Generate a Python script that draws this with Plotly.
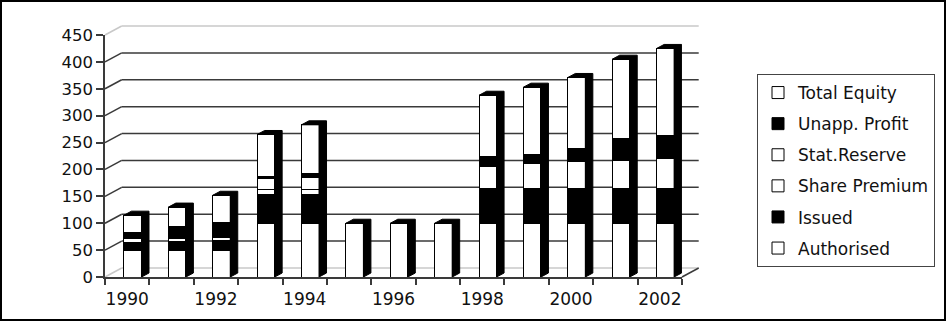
import plotly.graph_objects as go

# ---- data ----
years = list(range(1990, 2003))
authorised    = [50, 50, 50, 100, 100, 100, 100, 100, 100, 100, 100, 100, 100]
issued        = [15, 16, 17, 54, 54, None, None, None, 65, 65, 65, 65, 65]
share_premium = [6, 6, 7, 9, 9, None, None, None, None, None, None, None, None]
stat_reserve  = [None, None, None, 20, 22, None, None, None, 41, 46, 49, 52, 56]
unapp_profit  = [11, 21, 28, 4, 8, None, None, None, 19, 17, 25, 40, 43]
total_equity  = [33, 37, 50, 78, 90, None, None, None, 113, 125, 132, 148, 161]
x_tick_labels = [1990, 1992, 1994, 1996, 1998, 2000, 2002]
y_ticks = [0, 50, 100, 150, 200, 250, 300, 350, 400, 450]

series = [
    ("Authorised", authorised, "white"),
    ("Issued", issued, "black"),
    ("Share Premium", share_premium, "white"),
    ("Stat.Reserve", stat_reserve, "white"),
    ("Unapp. Profit", unapp_profit, "black"),
    ("Total Equity", total_equity, "white"),
]

# ---- layout geometry ----
W, H = 951, 322
L, R, T, B = 105, 269, 35, 45
PW, PH = W - L - R, H - T - B
X_RANGE = [1989.5, 2002.5]
Y_RANGE = [0, 450]
px_x = PW / (X_RANGE[1] - X_RANGE[0])
px_y = PH / (Y_RANGE[1] - Y_RANGE[0])

BW = 17.5 / px_x      # bar front width (data units)
BO = -3.2 / px_x      # bar offset from category centre
DX = 7.5 / px_x       # bar depth, x
DY = 4.0 / px_y       # bar depth, y
WX = 16.7 / PW        # wall depth in paper units
WY = 9.0 / PH

FONT = "DejaVu Sans"
DARK = "#3a3a3a"
LIGHT = "#c8c8c8"

fig = go.Figure()

n = len(series)
for i, (name, vals, col) in enumerate(series):
    fig.add_trace(go.Bar(
        x=years, y=vals, name=name, width=BW, offset=BO,
        marker=dict(color=col, line=dict(color="black", width=1)),
        legendgroup=name, legendrank=n - i,
    ))

# 3D side/top faces (black), computed from stack totals
totals = [sum(v for v in col if v is not None)
          for col in zip(authorised, issued, share_premium, stat_reserve, unapp_profit, total_equity)]
px_, py_ = [], []
for yr, tot in zip(years, totals):
    xl = yr + BO
    xr = xl + BW
    pts = [(xl, tot), (xl + DX, tot + DY), (xr + DX, tot + DY), (xr + DX, DY), (xr, 0), (xr, tot), (xl, tot)]
    for a, b in pts:
        px_.append(a)
        py_.append(b)
    px_.append(None)
    py_.append(None)
fig.add_trace(go.Scatter(
    x=px_, y=py_, mode="lines", fill="toself", fillcolor="black",
    line=dict(color="black", width=1), showlegend=False, hoverinfo="skip",
))

shapes = []
for v in y_ticks:
    col = LIGHT if v in (Y_RANGE[0], Y_RANGE[1]) else DARK
    yp = (v - Y_RANGE[0]) / (Y_RANGE[1] - Y_RANGE[0])
    shapes.append(dict(type="line", xref="paper", yref="paper", layer="below",
                       x0=WX, x1=1 + WX, y0=yp + WY, y1=yp + WY,
                       line=dict(color=col, width=1.5)))
    shapes.append(dict(type="line", xref="paper", yref="paper", layer="below",
                       x0=0, x1=WX, y0=yp, y1=yp + WY,
                       line=dict(color=col, width=1.5)))
# floor right edge
shapes.append(dict(type="line", xref="paper", yref="paper", layer="below",
                   x0=1, x1=1 + WX, y0=0, y1=WY, line=dict(color=DARK, width=1.5)))
# outer frame
def pxp(x):
    return (x - L) / PW
def pyp(y):
    return (H - B - y) / PH
shapes.append(dict(type="rect", xref="paper", yref="paper", layer="above",
                   x0=pxp(1), x1=pxp(945), y0=pyp(1), y1=pyp(320),
                   line=dict(color="black", width=2), fillcolor="rgba(0,0,0,0)"))

fig.update_layout(
    width=W, height=H,
    margin=dict(l=L, r=R, t=T, b=B, pad=0),
    barmode="stack",
    paper_bgcolor="white",
    plot_bgcolor="rgba(0,0,0,0)",
    font=dict(family=FONT, color="#111111", size=16),
    shapes=shapes,
    showlegend=True,
    legend=dict(
        x=pxp(757), y=pyp(74), xanchor="left", yanchor="top",
        traceorder="grouped", tracegroupgap=6,
        bordercolor="#444444", borderwidth=1, bgcolor="white",
        font=dict(family=FONT, size=17, color="#111111"),
        itemclick=False,
    ),
    xaxis=dict(
        range=X_RANGE, tickmode="array", tickvals=x_tick_labels,
        ticktext=[str(v) for v in x_tick_labels],
        ticks="outside", ticklen=6, tickcolor="rgba(0,0,0,0)",
        showline=True, linecolor=DARK, linewidth=1.5,
        showgrid=False, zeroline=False,
        minor=dict(tickvals=[y + 0.5 for y in range(1989, 2003)], ticks="outside",
                   ticklen=6, tickcolor=DARK, tickwidth=1.5, showgrid=False),
        tickfont=dict(family=FONT, size=17, color="#111111"),
        fixedrange=True,
    ),
    yaxis=dict(
        range=Y_RANGE, tickmode="array", tickvals=y_ticks,
        ticks="outside", ticklen=7, tickcolor=DARK, tickwidth=1.5,
        showline=True, linecolor=DARK, linewidth=1.5,
        showgrid=False, zeroline=False,
        tickfont=dict(family=FONT, size=16.5, color="#111111"),
        fixedrange=True,
    ),
)

fig.write_html("out.html")
